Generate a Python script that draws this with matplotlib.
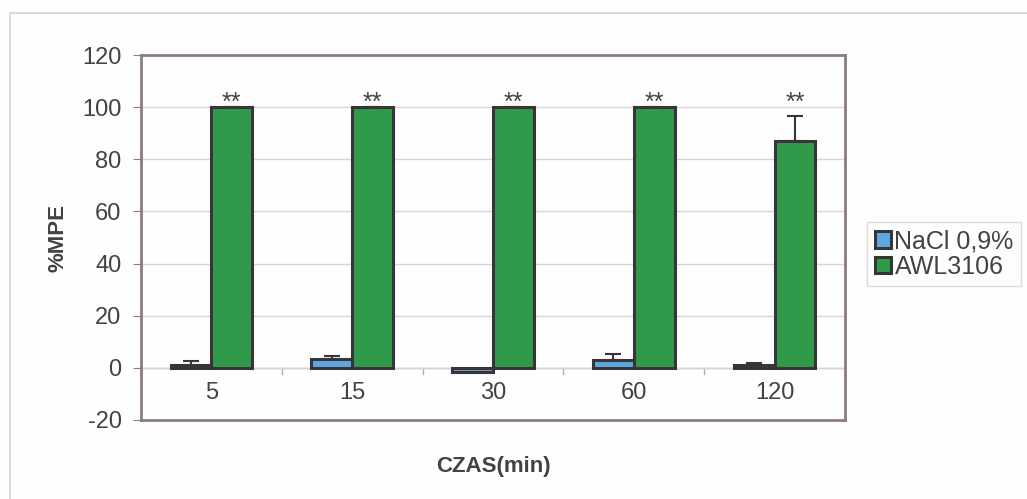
import numpy as np
import matplotlib.pyplot as plt
from matplotlib.patches import Rectangle

# time points and %MPE means with SEM
czas = ['5', '15', '30', '60', '120']
nacl_mean = [1.0, 3.5, -1.5, 3.0, 1.2]
nacl_err = [1.5, 1.0, 0.5, 2.5, 0.8]
awl_mean = [100.0, 100.0, 100.0, 100.0, 87.0]
awl_err = [0.0, 0.0, 0.0, 0.0, 9.5]
stars = ['**', '**', '**', '**', '**']

plt.rcParams['font.family'] = ['Liberation Sans', 'DejaVu Sans']
plt.rcParams['axes.unicode_minus'] = False
text_col = '#454045'
frame_col = '#8a7c80'

fig = plt.figure(figsize=(10.27, 4.99), dpi=100)
fig.patch.set_facecolor('#fdfefd')
# outer chart border, running off the right and bottom edges
fig.patches.append(Rectangle((10 / 1027, -0.05), 1.1, 1.05 - 13 / 499,
                             transform=fig.transFigure, fill=False,
                             edgecolor='#d6d2d4', linewidth=1.2))

ax = fig.add_axes([141 / 1027, 79 / 499, 704 / 1027, 365 / 499])
ax.set_facecolor('#fdfefd')

x = np.arange(len(czas))
w = 0.29
bar_kw = dict(edgecolor='#3a3438', linewidth=2.2, zorder=3)
err_kw = dict(ecolor='#3a3438', elinewidth=1.5, capsize=6, capthick=1.5)

ax.bar(x - w / 2, nacl_mean, w, color='#5ea8e2', label='NaCl 0,9%', **bar_kw)
ax.errorbar(x - w / 2, nacl_mean, yerr=[np.zeros(len(x)), nacl_err],
            fmt='none', zorder=2, **err_kw)
ax.bar(x + w / 2, awl_mean, w, color='#2f9a4a', label='AWL3106', **bar_kw)
ax.errorbar(x + w / 2, awl_mean, yerr=[np.zeros(len(x)), awl_err],
            fmt='none', zorder=2, **err_kw)

# significance marks sit just above the 100 % line
for xi, s in zip(x, stars):
    ax.text(xi + w / 2, 99, s, ha='center', va='baseline',
            fontsize=18, color=text_col)

ax.set_xlim(-0.5, len(czas) - 0.5)
ax.set_ylim(-20, 120)
ax.set_yticks(range(-20, 121, 20))
ax.yaxis.grid(True, color='#d8d4d6', linewidth=1.0, zorder=0)
ax.axhline(0, color='#cdb8ba', linewidth=1.0, zorder=1)

# category labels hang under the zero line
ax.set_xticks([])
for xi, lab in zip(x, czas):
    ax.text(xi, -9.5, lab, ha='center', va='center', fontsize=17, color=text_col)
ax.tick_params(axis='y', length=6, color=frame_col, labelsize=17,
               labelcolor=text_col, pad=8)
for b in np.arange(0.5, len(czas) - 0.5):
    ax.plot([b, b], [0, -2.5], color='#b8aeb0', linewidth=1.0, zorder=1)

for sp in ax.spines.values():
    sp.set_color(frame_col)
    sp.set_linewidth(2.0)

ax.set_ylabel('%MPE', fontsize=16, fontweight='bold', color=text_col, labelpad=10)
ax.set_xlabel('CZAS(min)', fontsize=16, fontweight='bold', color=text_col, labelpad=26)

leg = fig.legend(loc='upper left', bbox_to_anchor=(867 / 1027, 1 - 222 / 499),
                 fontsize=18, frameon=True, handlelength=0.65, handleheight=0.65,
                 handletextpad=0.15, borderpad=0.3, labelspacing=0.05, fancybox=False,
                 labelcolor=text_col, borderaxespad=0)
leg.get_frame().set_edgecolor('#d6d2d4')
leg.get_frame().set_linewidth(1.0)

fig.savefig('out.png', dpi=100, facecolor=fig.get_facecolor())
